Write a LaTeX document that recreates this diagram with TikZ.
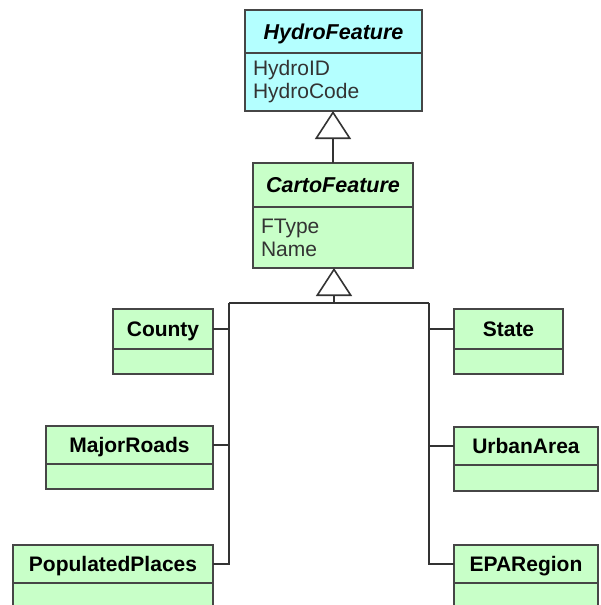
\documentclass[tikz,border=0pt]{standalone}
\usepackage{fontspec}
\setmainfont{Liberation Sans}
\usetikzlibrary{positioning,arrows.meta}
\definecolor{hydrocyan}{RGB}{180,255,255}
\definecolor{cartogreen}{RGB}{200,255,200}
\definecolor{boxline}{RGB}{70,70,70}
\tikzset{
  classtitle/.style={draw=boxline, line width=1.6pt, fill=cartogreen, anchor=north west, outer sep=0pt, inner sep=0pt, text height=15pt, text depth=0pt, font=\fontsize{21}{23}\selectfont\bfseries},
  abstracttitle/.style={classtitle, font=\fontsize{21.5}{23}\selectfont\bfseries\itshape},
  classattr/.style={draw=boxline, line width=1.6pt, fill=cartogreen, outer sep=0pt, inner xsep=8pt, inner ysep=0pt, minimum height=25pt, align=left, text=black!80, font=\fontsize{21}{23}\selectfont},
  genarrow/.style={-{Triangle[open, length=28pt, width=36pt]}, line width=1.6pt, draw=black!80},
  busline/.style={line width=1.6pt, draw=black!80}
}
\begin{document}
\begin{tikzpicture}[x=1pt, y=-1pt]
  \clip (0,0) rectangle (600,605);
  \fill[white] (0,0) rectangle (600,605);
  % base classes
  \node[abstracttitle, fill=hydrocyan, minimum width=177pt, minimum height=43pt] (hydro) at (245,10) {HydroFeature};
  \node[classattr, fill=hydrocyan, text width=161pt, minimum height=58pt, below=0pt of hydro] (hydro-a) {HydroID\\HydroCode};
  \node[abstracttitle, minimum width=160pt, minimum height=44pt] (carto) at (253,163) {CartoFeature};
  \node[classattr, text width=144pt, minimum height=61pt, below=0pt of carto] (carto-a) {FType\\Name};
  % left subclasses
  \node[classtitle, minimum width=100pt, minimum height=40pt] (county) at (113,309) {County};
  \node[classattr, minimum width=100pt, below=0pt of county] (county-a) {};
  \node[classtitle, minimum width=167pt, minimum height=38pt] (roads) at (46,426) {MajorRoads};
  \node[classattr, minimum width=167pt, below=0pt of roads] (roads-a) {};
  \node[classtitle, minimum width=200pt, minimum height=38pt] (places) at (13,545) {PopulatedPlaces};
  \node[classattr, minimum width=200pt, minimum height=40pt, below=0pt of places] (places-a) {};
  % right subclasses
  \node[classtitle, minimum width=109pt, minimum height=40pt] (state) at (454,309) {State};
  \node[classattr, minimum width=109pt, below=0pt of state] (state-a) {};
  \node[classtitle, minimum width=144pt, minimum height=38pt] (urban) at (454,427) {UrbanArea};
  \node[classattr, minimum width=144pt, minimum height=26pt, below=0pt of urban] (urban-a) {};
  \node[classtitle, minimum width=144pt, minimum height=38pt] (epa) at (454,545) {EPARegion};
  \node[classattr, minimum width=144pt, minimum height=40pt, below=0pt of epa] (epa-a) {};
  % generalisation
  \coordinate (busL) at (229,303);
  \coordinate (busR) at (429,303);
  \coordinate (busC) at (334,303);
  \draw[genarrow] (carto.north) -- (carto.north |- hydro-a.south);
  \draw[genarrow] (busC) -- (busC |- carto-a.south);
  \draw[busline] (busL) -- (busR);
  \draw[busline] (busL) |- (county.east);
  \draw[busline] (busL) |- (roads.east);
  \draw[busline] (busL) |- (places.east);
  \draw[busline] (busR) |- (state.west);
  \draw[busline] (busR) |- (urban.west);
  \draw[busline] (busR) |- (epa.west);
\end{tikzpicture}
\end{document}
